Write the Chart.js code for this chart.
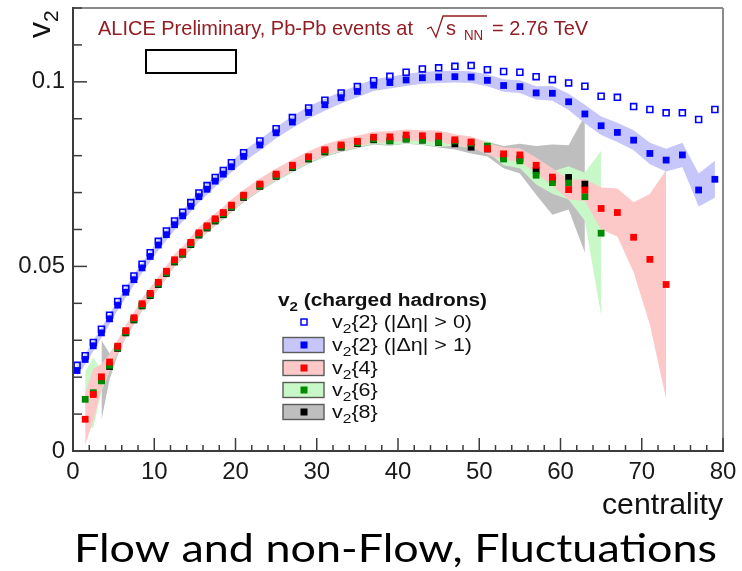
<!DOCTYPE html>
<html>
<head>
<meta charset="utf-8">
<script src="https://cdn.jsdelivr.net/npm/chart.js@4.4.0/dist/chart.umd.min.js"></script>
<style>
  html, body { margin: 0; padding: 0; background: #fff; }
  #wrap { width: 742px; height: 571px; position: relative; }
</style>
</head>
<body>
<div id="wrap"><canvas id="flow-chart"></canvas></div>
<script>
// centrality bin centres (1% bins up to 20%, 2% bins above)
const CENTRALITY = [0.5, 1.5, 2.5, 3.5, 4.5, 5.5, 6.5, 7.5, 8.5, 9.5, 10.5, 11.5, 12.5, 13.5, 14.5, 15.5, 16.5, 17.5, 18.5, 19.5,
  21, 23, 25, 27, 29, 31, 33, 35, 37, 39, 41, 43, 45, 47, 49, 51, 53, 55, 57, 59, 61, 63, 65, 67, 69, 71, 73, 75, 77, 79];

// v2{2} |deta| > 0 (open blue)
const V2_2_GAP0 = [0.0232, 0.0258, 0.0294, 0.0330, 0.0368, 0.0405, 0.0440, 0.0474, 0.0506, 0.0537, 0.0568, 0.0596, 0.0623, 0.0647, 0.0673, 0.0699, 0.0719, 0.0741, 0.0760, 0.0781,
  0.0808, 0.0840, 0.0873, 0.0903, 0.0929, 0.0950, 0.0970, 0.0987, 0.1003, 0.1015, 0.1026, 0.1035, 0.1038, 0.1042, 0.1044, 0.1033, 0.1028, 0.1026, 0.1014, 0.1006,
  0.0997, 0.0988, 0.0961, 0.0958, 0.0933, 0.0925, 0.0916, 0.0916, 0.0898, 0.0925];

// v2{2} |deta| > 1 (filled blue) + systematic band half width
const V2_2_GAP1 = [0.0218, 0.0248, 0.0285, 0.0320, 0.0358, 0.0395, 0.0430, 0.0464, 0.0496, 0.0527, 0.0558, 0.0586, 0.0613, 0.0637, 0.0663, 0.0689, 0.0709, 0.0731, 0.0750, 0.0770,
  0.0798, 0.0829, 0.0862, 0.0891, 0.0917, 0.0938, 0.0957, 0.0974, 0.0991, 0.0998, 0.1005, 0.1011, 0.1013, 0.1014, 0.1013, 0.1004, 0.0990, 0.0987, 0.0970, 0.0969,
  0.0946, 0.0913, 0.0881, 0.0863, 0.0842, 0.0806, 0.0788, 0.0802, 0.0707, 0.0736];
const V2_2_GAP1_SYS = [0.0014, 0.0014, 0.0014, 0.0014, 0.0014, 0.0014, 0.0014, 0.0014, 0.0014, 0.0014, 0.0015, 0.0015, 0.0015, 0.0015, 0.0015, 0.0015, 0.0015, 0.0015, 0.0015, 0.0015,
  0.0015, 0.0015, 0.0015, 0.0016, 0.0016, 0.0016, 0.0016, 0.0016, 0.0016, 0.0016, 0.0016, 0.0016, 0.0016, 0.0016, 0.0016, 0.0016, 0.0017, 0.0017, 0.0018, 0.0020,
  0.0022, 0.0025, 0.0025, 0.0026, 0.0027, 0.0029, 0.0031, 0.0033, 0.0045, 0.0050];

// v2{4} (red)
const V2_4 = [null, 0.0086, 0.0153, 0.0201, 0.0241, 0.0284, 0.0326, 0.0361, 0.0399, 0.0427, 0.0457, 0.0487, 0.0518, 0.0539, 0.0565, 0.0591, 0.0610, 0.0629, 0.0646, 0.0666,
  0.0693, 0.0723, 0.0750, 0.0774, 0.0797, 0.0816, 0.0829, 0.0839, 0.0850, 0.0851, 0.0856, 0.0854, 0.0853, 0.0843, 0.0837, 0.0819, 0.0805, 0.0802, 0.0774, 0.0742,
  0.0708, 0.0707, 0.0657, 0.0646, 0.0579, 0.0519, 0.0451, null, null, null];
const V2_4_SYS = [null, 0.0070, 0.0070, 0.0035, 0.0022, 0.0016, 0.0015, 0.0015, 0.0015, 0.0015, 0.0015, 0.0015, 0.0015, 0.0015, 0.0015, 0.0015, 0.0015, 0.0015, 0.0015, 0.0015,
  0.0015, 0.0015, 0.0015, 0.0015, 0.0015, 0.0015, 0.0015, 0.0015, 0.0015, 0.0015, 0.0015, 0.0015, 0.0015, 0.0015, 0.0015, 0.0016, 0.0017, 0.0018, 0.0021, 0.0024,
  0.0027, 0.0030, 0.0057, 0.0065, 0.0095, 0.0177, 0.0310, null, null, null];

// v2{6} (green)
const V2_6 = [null, 0.0140, 0.0158, 0.0190, 0.0232, 0.0280, 0.0322, 0.0357, 0.0395, 0.0423, 0.0453, 0.0483, 0.0514, 0.0535, 0.0561, 0.0587, 0.0606, 0.0625, 0.0642, 0.0662,
  0.0689, 0.0719, 0.0746, 0.0770, 0.0793, 0.0812, 0.0825, 0.0835, 0.0845, 0.0841, 0.0846, 0.0843, 0.0837, 0.0840, 0.0834, 0.0826, 0.0791, 0.0786, 0.0747, 0.0727,
  0.0726, 0.0689, 0.0590, null, null, null, null, null, null, null];
const V2_6_SYS = [null, 0.0075, 0.0095, 0.0028, 0.0016, 0.0013, 0.0013, 0.0013, 0.0013, 0.0013, 0.0013, 0.0013, 0.0013, 0.0013, 0.0013, 0.0013, 0.0013, 0.0013, 0.0013, 0.0013,
  0.0013, 0.0013, 0.0013, 0.0013, 0.0013, 0.0013, 0.0013, 0.0013, 0.0013, 0.0013, 0.0013, 0.0013, 0.0013, 0.0013, 0.0013, 0.0014, 0.0017, 0.0020, 0.0025, 0.0030,
  0.0045, 0.0065, 0.0223, null, null, null, null, null, null, null];

// v2{8} (black)
const V2_8 = [null, null, null, 0.0192, 0.0229, 0.0278, 0.0320, 0.0355, 0.0393, 0.0421, 0.0451, 0.0481, 0.0512, 0.0533, 0.0559, 0.0585, 0.0604, 0.0623, 0.0640, 0.0660,
  0.0687, 0.0717, 0.0744, 0.0768, 0.0791, 0.0810, 0.0823, 0.0833, 0.0843, 0.0840, 0.0845, 0.0842, 0.0836, 0.0832, 0.0823, 0.0818, 0.0796, 0.0792, 0.0760, 0.0735,
  0.0741, 0.0723, null, null, null, null, null, null, null, null];
const V2_8_SYS = [null, null, null, 0.0108, 0.0035, 0.0018, 0.0013, 0.0013, 0.0013, 0.0013, 0.0013, 0.0013, 0.0013, 0.0013, 0.0013, 0.0013, 0.0013, 0.0013, 0.0013, 0.0013,
  0.0013, 0.0013, 0.0013, 0.0013, 0.0013, 0.0013, 0.0013, 0.0013, 0.0013, 0.0013, 0.0013, 0.0013, 0.0014, 0.0015, 0.0017, 0.0020, 0.0030, 0.0040, 0.0066, 0.0095,
  0.0087, 0.0186, null, null, null, null, null, null, null, null];

const X_TICK_STEP = 10;
const Y_LABELLED_TICKS = [0, 0.05, 0.1];

const BLUE = '#0000ff';
const RED = '#ff0000';
const GREEN = '#008a00';
const BLACK = '#000000';
const BAND_BLUE = '#c6c6fa';
const BAND_RED = '#fcc8c8';
const BAND_GREEN = '#c8f8c8';
const BAND_GRAY = '#bebebe';
const TITLE_RED = '#921d23';
const AXIS_FONT = '"Liberation Sans", Arial, Helvetica, sans-serif';

function markerPoints(vals) {
  const pts = [];
  CENTRALITY.forEach((c, i) => {
    if (vals[i] !== null) pts.push({ x: c, y: vals[i] });
  });
  return pts;
}

function bandPoints(vals, sys, sign) {
  const pts = [];
  CENTRALITY.forEach((c, i) => {
    if (vals[i] !== null) pts.push({ x: c, y: vals[i] + sign * sys[i] });
  });
  return pts;
}

function marker(label, vals, color, order, open) {
  return {
    label: label,
    data: markerPoints(vals),
    showLine: false,
    pointStyle: 'rect',
    pointRadius: open ? 4.2 : 4.8,
    pointHoverRadius: open ? 4.2 : 4.8,
    borderWidth: open ? 1.6 : 0,
    borderColor: color,
    backgroundColor: open ? 'rgba(0,0,0,0)' : color,
    order: order
  };
}

function band(vals, sys, color, order) {
  const edge = {
    showLine: true,
    tension: 0,
    borderWidth: 0,
    borderColor: 'rgba(0,0,0,0)',
    pointRadius: 0,
    pointHoverRadius: 0,
    order: order
  };
  return [
    Object.assign({ label: '', data: bandPoints(vals, sys, -1), fill: false }, edge),
    Object.assign({ label: '', data: bandPoints(vals, sys, 1), fill: '-1', backgroundColor: color }, edge)
  ];
}

const flowDatasets = [
  marker('v2{2} (|Δη| > 0)', V2_2_GAP0, BLUE, 0, true),
  marker('v2{2} (|Δη| > 1)', V2_2_GAP1, BLUE, 1, false),
  marker('v2{4}', V2_4, RED, 2, false),
  marker('v2{6}', V2_6, GREEN, 3, false),
  marker('v2{8}', V2_8, BLACK, 4, false),
  ...band(V2_2_GAP1, V2_2_GAP1_SYS, BAND_BLUE, 10),
  ...band(V2_4, V2_4_SYS, BAND_RED, 11),
  ...band(V2_6, V2_6_SYS, BAND_GREEN, 12),
  ...band(V2_8, V2_8_SYS, BAND_GRAY, 13)
];

// legend rows: marker dataset index + band colour (null = marker only)
const LEGEND_ROWS = [
  { ds: 0, band: null },
  { ds: 1, band: BAND_BLUE },
  { ds: 2, band: BAND_RED },
  { ds: 3, band: BAND_GREEN },
  { ds: 4, band: BAND_GRAY }
];

function line(ctx, x1, y1, x2, y2) {
  ctx.beginPath();
  ctx.moveTo(x1, y1);
  ctx.lineTo(x2, y2);
  ctx.stroke();
}

// draw text squeezed/stretched horizontally to a given width
function fitText(ctx, text, x, y, width) {
  const w = ctx.measureText(text).width;
  ctx.save();
  ctx.translate(x, y);
  ctx.scale(width / w, 1);
  ctx.fillText(text, 0, 0);
  ctx.restore();
  return width / w;
}

// "v" + subscript "2" + rest of label
function drawV2Label(ctx, label, x, y, size, sx, bold) {
  const w = bold ? 'bold ' : '';
  ctx.save();
  ctx.translate(x, y);
  ctx.scale(sx, 1);
  ctx.font = w + size + 'px ' + AXIS_FONT;
  ctx.fillText('v', 0, 0);
  let cx = ctx.measureText('v').width;
  ctx.font = w + Math.round(size * 0.7) + 'px ' + AXIS_FONT;
  ctx.fillText('2', cx, size * 0.28);
  cx += ctx.measureText('2').width;
  ctx.font = w + size + 'px ' + AXIS_FONT;
  ctx.fillText(label.slice(2), cx, 0);
  cx += ctx.measureText(label.slice(2)).width;
  ctx.restore();
  return cx;
}

// keep the plot frame where the picture has it: no extra room for tick label overflow
function noLabelPadding(scale) {
  scale.paddingTop = 0;
  scale.paddingBottom = 0;
  scale.paddingLeft = 0;
  scale.paddingRight = 0;
}

const frameAndTicks = {
  id: 'frameAndTicks',
  afterDatasetsDraw(chart) {
    const { ctx, chartArea: a, scales: { x, y } } = chart;
    ctx.save();
    ctx.strokeStyle = '#8a8a8a';
    ctx.lineWidth = 2;
    line(ctx, a.left, a.top, a.right, a.top);
    line(ctx, a.right, a.top, a.right, a.bottom);
    ctx.strokeStyle = '#3c3c3c';
    ctx.lineWidth = 1.5;
    for (let v = x.min; v <= x.max; v += 2) {
      const px = x.getPixelForValue(v);
      line(ctx, px, a.bottom, px, a.bottom - (v % X_TICK_STEP === 0 ? 13 : 6));
    }
    for (let k = 0; k <= 12; k++) {
      const py = y.getPixelForValue(k / 100);
      line(ctx, a.left, py, a.left + (k % 5 === 0 ? 14 : 9), py);
    }
    ctx.lineWidth = 2;
    line(ctx, a.left, a.top - 1, a.left, a.bottom + 1);
    line(ctx, a.left - 1, a.bottom, a.right + 1, a.bottom);
    ctx.restore();
  }
};

const annotations = {
  id: 'annotations',
  afterDraw(chart) {
    const { ctx, chartArea: a } = chart;
    ctx.save();
    ctx.textBaseline = 'alphabetic';
    ctx.textAlign = 'left';

    // header inside the frame
    ctx.fillStyle = TITLE_RED;
    ctx.strokeStyle = TITLE_RED;
    ctx.font = '21px ' + AXIS_FONT;
    const sx = fitText(ctx, 'ALICE Preliminary, Pb-Pb events at', 98, 35, 315);
    ctx.lineWidth = 1.3;
    ctx.beginPath();
    ctx.moveTo(427, 29);
    ctx.lineTo(431, 27);
    ctx.lineTo(436, 37);
    ctx.lineTo(443, 16);
    ctx.lineTo(487, 16);
    ctx.stroke();
    ctx.save();
    ctx.translate(446, 35);
    ctx.scale(sx, 1);
    ctx.fillText('s', 0, 0);
    ctx.restore();
    ctx.font = '14px ' + AXIS_FONT;
    ctx.save();
    ctx.translate(464, 40);
    ctx.scale(sx, 1);
    ctx.fillText('NN', 0, 0);
    ctx.restore();
    ctx.font = '21px ' + AXIS_FONT;
    ctx.save();
    ctx.translate(492, 35);
    ctx.scale(sx, 1);
    ctx.fillText('= 2.76 TeV', 0, 0);
    ctx.restore();

    // empty box under the header
    ctx.strokeStyle = '#000';
    ctx.lineWidth = 2;
    ctx.strokeRect(146, 50, 90, 23);

    // y title, rotated
    ctx.fillStyle = '#111';
    ctx.save();
    ctx.translate(50, 38);
    ctx.rotate(-Math.PI / 2);
    ctx.font = '32px ' + AXIS_FONT;
    ctx.fillText('v', 0, 0);
    const vw = ctx.measureText('v').width;
    ctx.font = '21px ' + AXIS_FONT;
    ctx.fillText('2', vw, 8);
    ctx.restore();

    // x title
    ctx.font = '29px ' + AXIS_FONT;
    fitText(ctx, 'centrality', a.right - 121, 514, 121);

    // legend
    const ds = chart.data.datasets;
    ctx.fillStyle = '#111';
    const titleNat = drawV2Label(ctx, 'v2 (charged hadrons)', -1000, -1000, 18, 1, true);
    drawV2Label(ctx, 'v2 (charged hadrons)', 278, 306, 18, 209 / titleNat, true);
    const rowY = [322, 345, 368, 390, 412];
    const firstNat = drawV2Label(ctx, ds[0].label, -1000, -1000, 18, 1, false);
    const lsx = 140 / firstNat;
    LEGEND_ROWS.forEach((row, i) => {
      const d = ds[row.ds];
      const cy = rowY[i];
      if (row.band) {
        ctx.fillStyle = row.band;
        ctx.fillRect(283, cy - 7.5, 41, 15);
        ctx.strokeStyle = '#5a5a5a';
        ctx.lineWidth = 1.4;
        ctx.strokeRect(283, cy - 7.5, 41, 15);
      }
      if (d.backgroundColor === 'rgba(0,0,0,0)') {
        ctx.strokeStyle = d.borderColor;
        ctx.lineWidth = 1.5;
        ctx.strokeRect(301, cy - 3, 6, 6);
      } else {
        ctx.fillStyle = d.backgroundColor;
        ctx.fillRect(300.5, cy - 3.5, 7, 7);
      }
      ctx.fillStyle = '#111';
      drawV2Label(ctx, d.label, 332, cy + 6, 18, lsx, false);
    });

    // caption below the figure
    ctx.fillStyle = '#000';
    ctx.font = '38px Lato, "Open Sans", sans-serif';
    fitText(ctx, 'Flow and non-Flow, Fluctuations', 74, 562, 643);
    ctx.restore();
  }
};

const flowConfig = {
  type: 'line',
  data: { datasets: flowDatasets },
  options: {
    responsive: true,
    maintainAspectRatio: false,
    animation: false,
    events: [],
    layout: {
      padding: { top: 8, right: 19, left: 0, bottom: 0 }
    },
    plugins: {
      legend: { display: false },
      tooltip: { enabled: false },
      title: { display: false }
    },
    scales: {
      x: {
        type: 'linear',
        min: 0,
        max: 80,
        grid: { display: false, drawTicks: false },
        border: { display: false },
        ticks: {
          stepSize: X_TICK_STEP,
          autoSkip: false,
          maxRotation: 0,
          padding: 7,
          color: '#1a1a1a',
          font: { family: AXIS_FONT, size: 24 }
        },
        afterFit: (scale) => { scale.height = 120; noLabelPadding(scale); }
      },
      y: {
        type: 'linear',
        min: 0,
        max: 0.12,
        grid: { display: false, drawTicks: false },
        border: { display: false },
        ticks: {
          stepSize: 0.01,
          autoSkip: false,
          padding: 8,
          color: '#1a1a1a',
          font: { family: AXIS_FONT, size: 24 },
          callback: function (value) {
            const v = +value.toFixed(2);
            return Y_LABELLED_TICKS.includes(v) ? String(v) : '';
          }
        },
        afterFit: (scale) => { scale.width = 73; noLabelPadding(scale); }
      }
    }
  },
  plugins: [frameAndTicks, annotations]
};

const flowChart = new Chart(document.getElementById('flow-chart'), flowConfig);
</script>
</body>
</html>
